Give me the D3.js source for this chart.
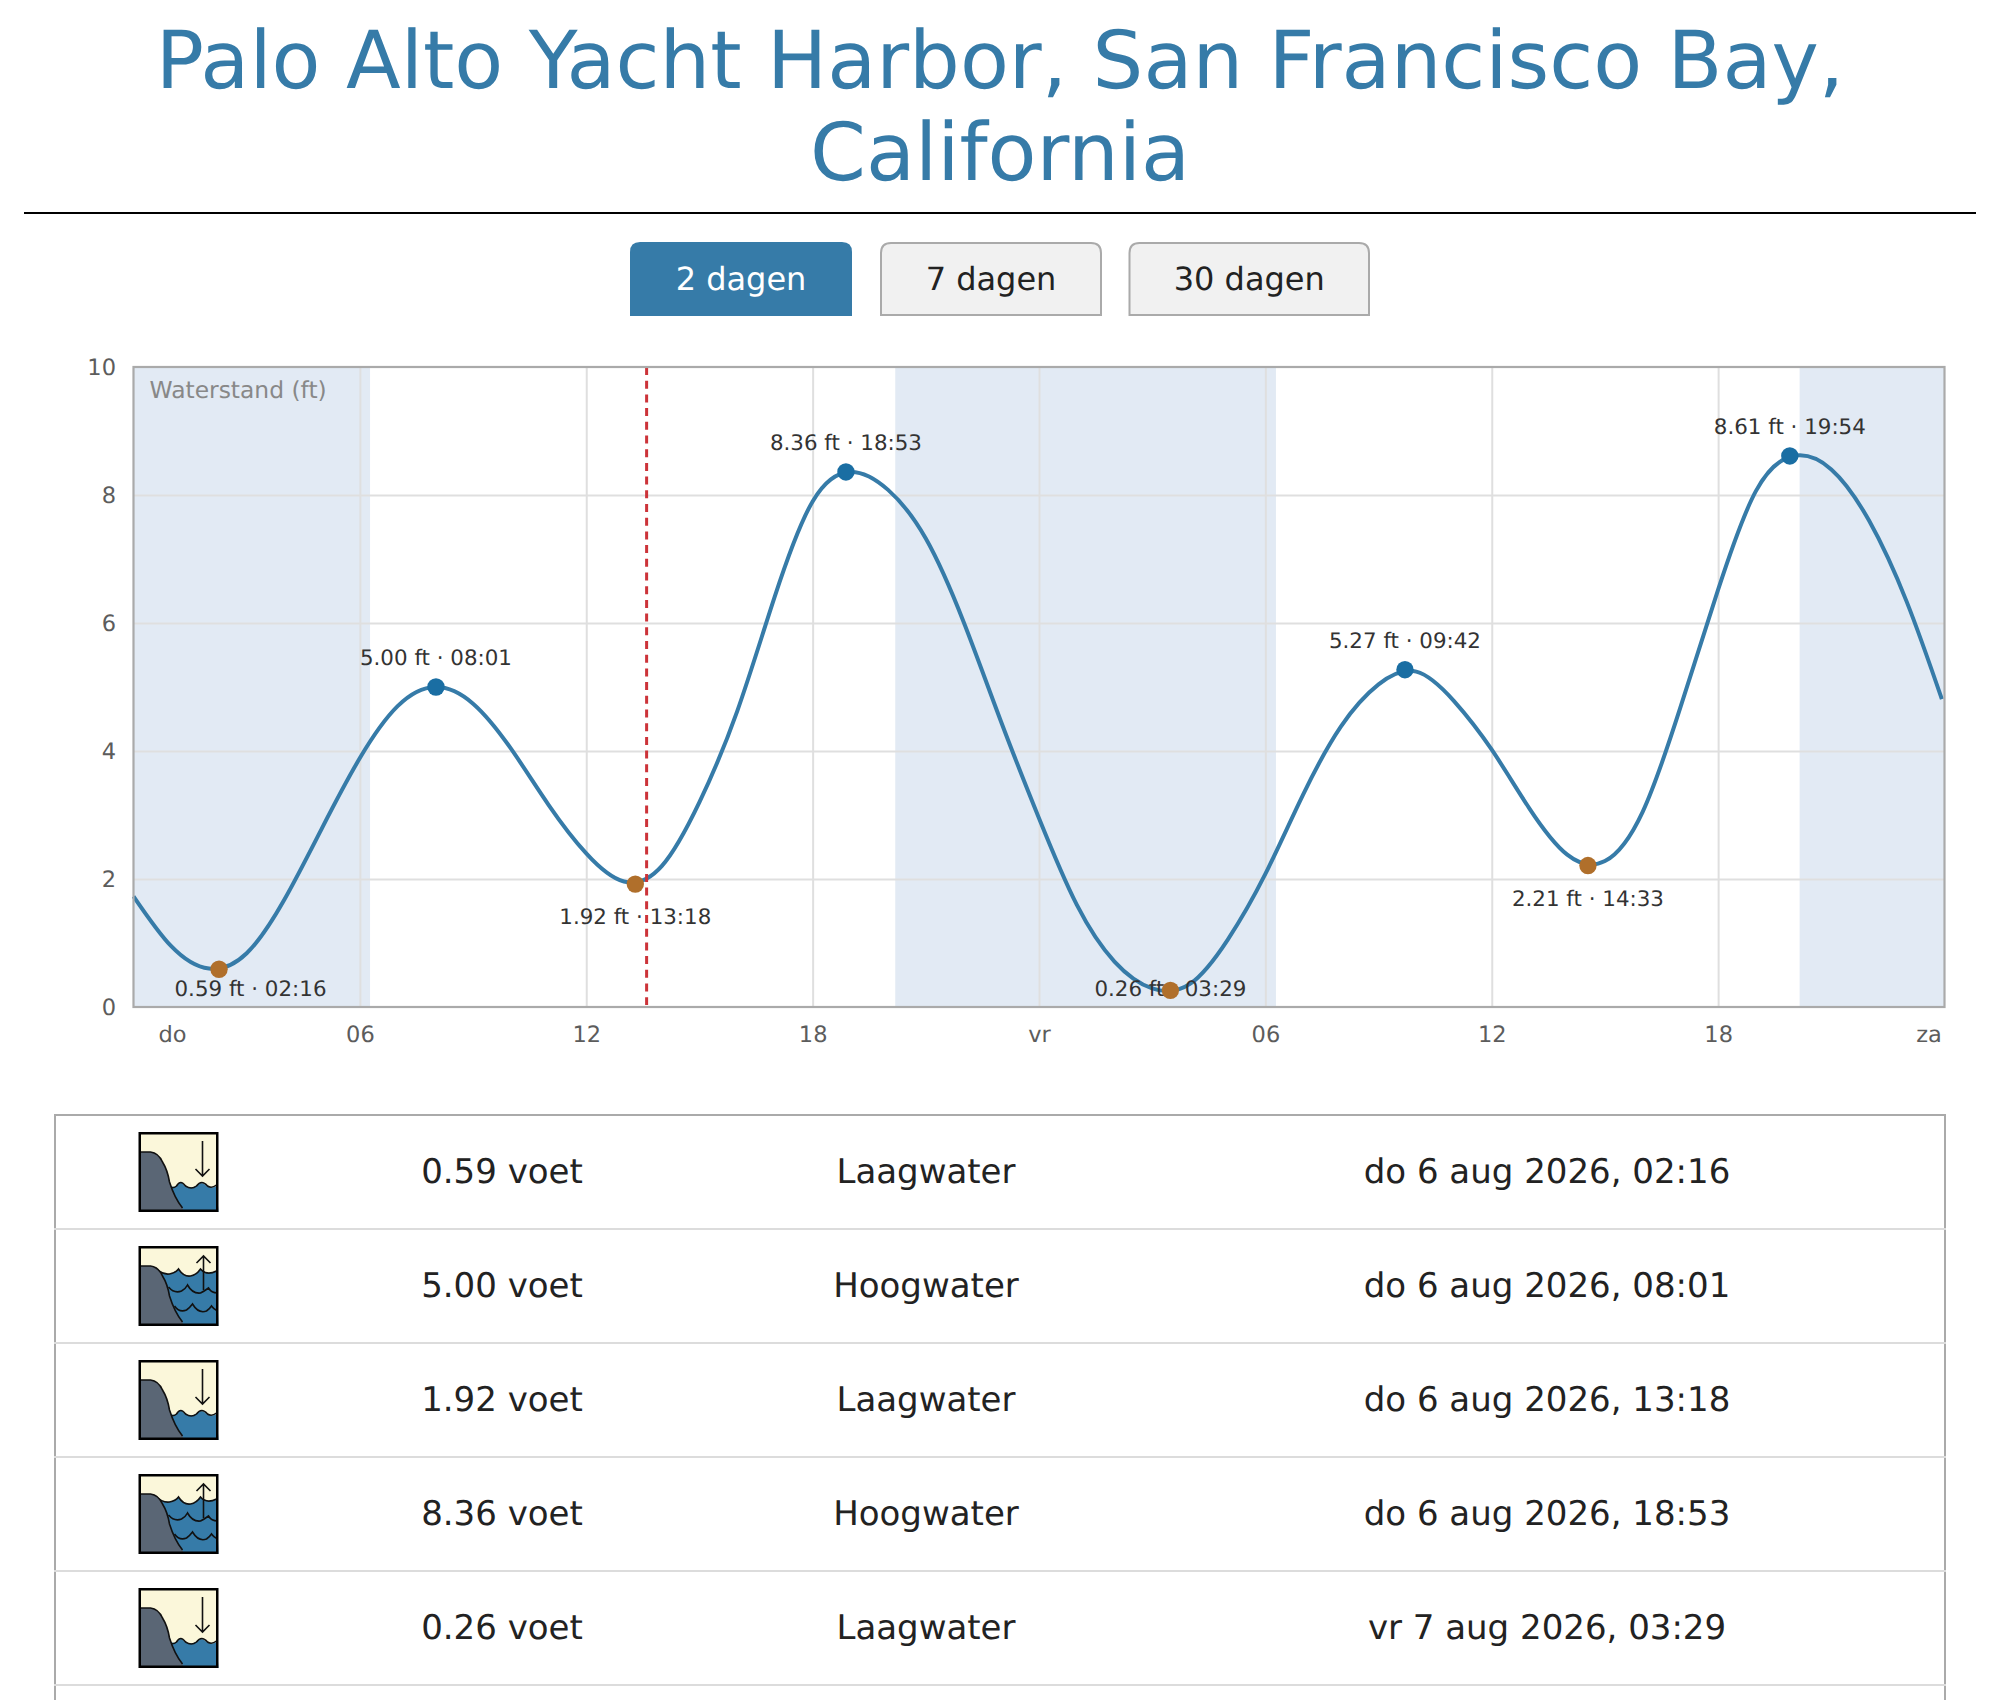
<!DOCTYPE html>
<html>
<head>
<meta charset="utf-8">
<script src="https://cdn.jsdelivr.net/npm/d3@7"></script>
<style>
html,body{margin:0;padding:0;background:#fff;overflow:hidden;width:2000px;height:1700px}
svg{display:block}
text{font-family:"DejaVu Sans",sans-serif;text-rendering:geometricPrecision}
</style>
</head>
<body>
<svg id="page" width="2000" height="1700"></svg>
<script>
// ---- data ----
const titleLines = ["Palo Alto Yacht Harbor, San Francisco Bay,", "California"];
const rangeButtons = ["2 dagen", "7 dagen", "30 dagen"];
const yTicks = [0, 2, 4, 6, 8, 10];
const xTicks = [0, 6, 12, 18, 24, 30, 36, 42, 48];
const xTickLabels = ["do", "06", "12", "18", "vr", "06", "12", "18", "za"];
const axisTitle = "Waterstand (ft)";
const hours = [0,1,2,3,4,5,6,7,8,9,10,11,12,13,14,15,16,17,18,19,20,21,22,23,24,25,26,27,28,29,30,31,32,33,34,35,36,37,38,39,40,41,42,43,44,45,46,47,47.93];
const levels = [1.73,0.95,0.60,0.84,1.68,2.80,3.89,4.70,5.00,4.74,4.04,3.16,2.40,1.96,2.20,3.20,4.62,6.42,7.90,8.36,8.08,7.32,6.02,4.45,2.95,1.60,0.71,0.29,0.36,1.05,2.08,3.32,4.38,5.04,5.24,4.78,4.02,3.10,2.38,2.28,3.05,4.68,6.52,8.06,8.61,8.40,7.60,6.33,4.81];
const nightBands = [[0,6.27],[20.19,30.28],[44.16,48]];
const nowHour = 13.6;
const extremeHours = [2.267,8.017,13.3,18.883,27.483,33.7,38.55,43.9];
const extremeLevels = [0.59,5.00,1.92,8.36,0.26,5.27,2.21,8.61];
const extremeClock = ["02:16","08:01","13:18","18:53","03:29","09:42","14:33","19:54"];
const extremeKinds = ["low","high","low","high","low","high","low","high"];
const extremeDates = ["do 6 aug 2026","do 6 aug 2026","do 6 aug 2026","do 6 aug 2026","vr 7 aug 2026","vr 7 aug 2026","vr 7 aug 2026","vr 7 aug 2026"];
const kindNames = {low:"Laagwater", high:"Hoogwater"};
const tableRowsShown = 5;

// ---- page ----
const svg = d3.select("#page");
const blue = "#367ba8";

svg.selectAll("text.title").data(titleLines).join("text").attr("class","title")
  .attr("x",1000).attr("y",(d,i)=>87.5+i*92.5).attr("text-anchor","middle")
  .attr("font-size",80).attr("fill",blue).text(d=>d);
svg.append("rect").attr("x",24).attr("y",212).attr("width",1952).attr("height",2).attr("fill","#000");

// ---- buttons ----
const btnX = [[630,852],[881,1101],[1129.5,1369]];
const roundTop = (x0,x1,y0,y1,r)=>`M${x0},${y1}V${y0+r}Q${x0},${y0} ${x0+r},${y0}H${x1-r}Q${x1},${y0} ${x1},${y0+r}V${y1}Z`;
rangeButtons.forEach((b,i)=>{
  const on = i===0, [a,c]=btnX[i];
  svg.append("path").attr("d",on?roundTop(a,c,242,316,10):roundTop(a,c,243,315,10))
    .attr("fill",on?blue:"#f1f1f1").attr("stroke",on?"none":"#aaa").attr("stroke-width",2);
  svg.append("text").attr("x",(a+c)/2).attr("y",290).attr("text-anchor","middle")
    .attr("font-size",32).attr("fill",on?"#fff":"#222").text(b);
});

// ---- chart ----
const m = {l:133.5,r:1944.5,t:367,b:1007};
const x = d3.scaleLinear().domain([0,48]).range([m.l,m.r]);
const y = d3.scaleLinear().domain([0,10]).range([m.b,m.t]);
const chart = svg.append("g");

chart.selectAll("rect.night").data(nightBands).join("rect").attr("class","night")
  .attr("x",d=>x(d[0])).attr("width",d=>x(d[1])-x(d[0]))
  .attr("y",m.t).attr("height",m.b-m.t).attr("fill","#e2eaf4");

// grid
const gridY = chart.append("g").attr("transform",`translate(${m.l},0)`)
  .call(d3.axisLeft(y).tickValues(yTicks.slice(1,-1)).tickSize(-(m.r-m.l)).tickFormat(""));
const gridX = chart.append("g").attr("transform",`translate(0,${m.b})`)
  .call(d3.axisBottom(x).tickValues(xTicks.slice(1,-1)).tickSize(-(m.b-m.t)).tickFormat(""));
[gridY,gridX].forEach(g=>{g.select(".domain").remove();
  g.selectAll("line").attr("stroke","#dfdfdf").attr("stroke-width",2);});

// tide curve
const line = d3.line().x((d,i)=>x(hours[i])).y(d=>y(d)).curve(d3.curveNatural);
chart.append("path").datum(levels).attr("d",line).attr("fill","none")
  .attr("stroke",blue).attr("stroke-width",4);

// now line
chart.append("line").attr("x1",x(nowHour)).attr("x2",x(nowHour)).attr("y1",m.t).attr("y2",m.b-2)
  .attr("stroke","#cc3339").attr("stroke-width",3).attr("stroke-dasharray","8 5.7");

// frame
chart.append("rect").attr("x",m.l).attr("y",m.t).attr("width",m.r-m.l).attr("height",m.b-m.t)
  .attr("fill","none").attr("stroke","#aaa").attr("stroke-width",2.2);

// axes
const axY = chart.append("g").attr("transform",`translate(116,0)`)
  .call(d3.axisLeft(y).tickValues(yTicks).tickSize(0).tickPadding(0));
axY.select(".domain").remove();
axY.selectAll("text").attr("font-size",22.5).attr("font-family","DejaVu Sans").attr("fill","#5c5c5c");

const axX = chart.append("g").attr("transform",`translate(0,${m.b})`)
  .call(d3.axisBottom(x).tickValues(xTicks).tickSize(0).tickPadding(0).tickFormat((d,i)=>xTickLabels[i]));
axX.select(".domain").remove();
axX.selectAll("text").attr("font-size",22.5).attr("font-family","DejaVu Sans").attr("fill","#5c5c5c")
  .attr("y",35).attr("dy",0)
  .attr("dx",(d)=>d===0?38.5:(d===48?-16:0));

chart.append("text").attr("x",149.5).attr("y",398).attr("font-size",23.4).attr("fill","#888").text(axisTitle);

// extreme points
const extremes = extremeHours.map((h,i)=>({h,v:extremeLevels[i],t:extremeClock[i],k:extremeKinds[i],date:extremeDates[i]}));
const labelX = d=>Math.max(x(d.h), m.l+117);
const labelY = d=>d.k==="high" ? y(d.v)-22 : Math.min(y(d.v)+40, 996);
chart.selectAll("text.ext").data(extremes).join("text").attr("class","ext")
  .attr("x",labelX).attr("y",labelY).attr("text-anchor","middle")
  .attr("font-size",21.4).attr("fill","#333").text(d=>`${d.v.toFixed(2)} ft · ${d.t}`);
chart.selectAll("circle.ext").data(extremes).join("circle").attr("class","ext")
  .attr("cx",d=>x(d.h)).attr("cy",d=>y(d.v)).attr("r",8.7)
  .attr("fill",d=>d.k==="high"?"#1a6ea3":"#b06f2b");

// ---- table ----
const rowH = 114, tTop = 1115, tL = 55, tR = 1945;
const table = svg.append("g");
const rowIdx = d3.range(tableRowsShown);
table.append("line").attr("x1",tL).attr("x2",tL).attr("y1",tTop).attr("y2",1700).attr("stroke","#aaa").attr("stroke-width",2);
table.append("line").attr("x1",tR).attr("x2",tR).attr("y1",tTop).attr("y2",1700).attr("stroke","#aaa").attr("stroke-width",2);
table.append("line").attr("x1",tL-1).attr("x2",tR+1).attr("y1",tTop).attr("y2",tTop).attr("stroke","#aaa").attr("stroke-width",2);
table.selectAll("line.sep").data(rowIdx).join("line").attr("class","sep")
  .attr("x1",tL-1).attr("x2",tR+1).attr("y1",i=>tTop+rowH*(i+1)).attr("y2",i=>tTop+rowH*(i+1))
  .attr("stroke","#dcdcdc").attr("stroke-width",2);

function icon(g,kind){
  g.append("rect").attr("x",1.5).attr("y",1.5).attr("width",77).attr("height",77).attr("fill","#fbf7da");
  if(kind==="low"){
    g.append("path").attr("d","M28,80 L28,55 Q35,54 37,55 Q42,47 46,54 Q52,57 57,54 Q63,48 68,54 Q73,57 78,54 L80,80Z").attr("fill",blue);
    g.append("path").attr("d","M29,55 Q35,57 38,54 Q42,47 47,54 Q53,58 58,54 Q63,47 69,54 Q73,57 78,53").attr("fill","none").attr("stroke","#111").attr("stroke-width",1.6);
  } else {
    g.append("path").attr("d","M17,22 Q22,28 30,28 Q36,27 40,23 Q45,30 52,30 Q58,29 62,23 Q68,30 78,25 L80,80 L30,80Z").attr("fill",blue);
    g.append("path").attr("d","M17,22 Q24,29 31,28 Q37,27 40,23 Q45,31 52,30 Q58,29 62,23 Q68,30 78,25").attr("fill","none").attr("stroke","#111").attr("stroke-width",1.6);
    g.append("path").attr("d","M30,41 Q36,48 43,45 Q47,43 49,39 Q54,48 62,47 Q66,45 70,42 Q73,47 79,47").attr("fill","none").attr("stroke","#111").attr("stroke-width",1.6);
    g.append("path").attr("d","M36,60 Q41,67 48,64 Q51,62 54,58 Q60,68 68,65 Q71,63 73,60 Q75,63 79,65").attr("fill","none").attr("stroke","#111").attr("stroke-width",1.6);
  }
  g.append("path").attr("d","M1.5,20 H12 Q20,21 24,30 Q29,38 31,50 Q36,66 44,76 L45,78.5 H1.5Z").attr("fill","#5a6675");
  g.append("path").attr("d","M1.5,20 H12 Q20,21 24,30 Q29,38 31,50 Q36,66 44,76").attr("fill","none").attr("stroke","#111").attr("stroke-width",1.6);
  if(kind==="low"){
    g.append("path").attr("d","M64,9 V44 M57,37 L64,44 L71,37").attr("fill","none").attr("stroke","#111").attr("stroke-width",1.6);
  } else {
    g.append("path").attr("d","M65,44 V10 M58,17 L65,10 L72,17").attr("fill","none").attr("stroke","#111").attr("stroke-width",1.6);
  }
  g.append("rect").attr("x",1.25).attr("y",1.25).attr("width",77.5).attr("height",77.5).attr("fill","none").attr("stroke","#000").attr("stroke-width",2.5);
}

const rows = table.selectAll("g.row").data(extremes.slice(0,tableRowsShown)).join("g").attr("class","row")
  .attr("transform",(d,i)=>`translate(0,${tTop+rowH*i})`);
rows.each(function(d){ icon(d3.select(this).append("g").attr("transform","translate(138.5,17)"),d.k); });
const cell = (cx,fn)=>rows.append("text").attr("x",cx).attr("y",67.5).attr("text-anchor","middle")
  .attr("font-size",34).attr("fill","#222").text(fn);
cell(502,d=>`${d.v.toFixed(2)} voet`);
cell(926,d=>kindNames[d.k]);
cell(1547,d=>`${d.date}, ${d.t}`);
</script>
</body>
</html>
